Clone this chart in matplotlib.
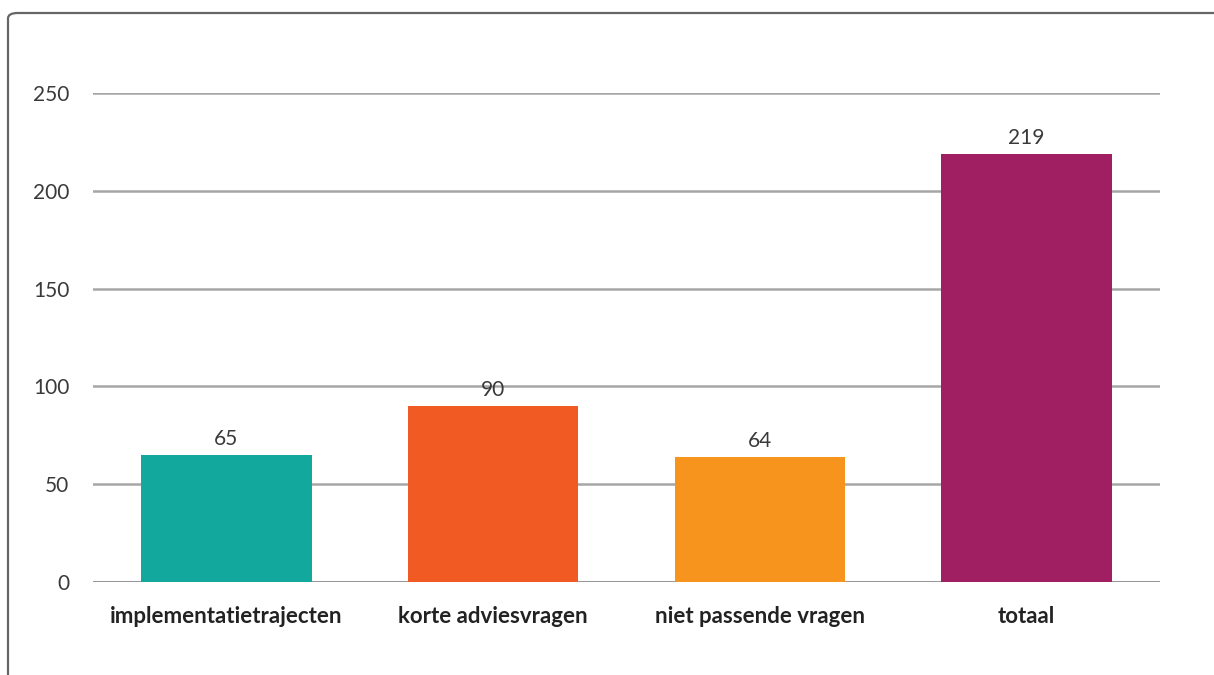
import matplotlib.pyplot as plt
from matplotlib.patches import FancyBboxPatch

categories = ['implementatietrajecten', 'korte adviesvragen', 'niet passende vragen', 'totaal']
values = [65, 90, 64, 219]
colors = ['#13A89E', '#F15A22', '#F7941D', '#A01F62']
yticks = [0, 50, 100, 150, 200, 250]

plt.rcParams['font.family'] = ['Lato', 'DejaVu Sans']

fig = plt.figure(figsize=(12.14, 6.75), dpi=100)
ax = fig.add_axes([93 / 1214, 93 / 675, 1067 / 1214, 489 / 675])

# rounded frame that runs off the right and bottom edges
frame = FancyBboxPatch((8 / 1214, -0.2), 1.2, 0.2 + 662 / 675,
                       boxstyle='round,pad=0,rounding_size=0.008',
                       transform=fig.transFigure, facecolor='none',
                       edgecolor='#666666', linewidth=1.6, clip_on=False)
fig.patches.append(frame)

x = range(len(categories))
ax.bar(x, values, width=0.64, color=colors, zorder=3)
for xi, v in zip(x, values):
    ax.text(xi, v + 3, str(v), ha='center', va='bottom', fontsize=15,
            fontweight='normal', color='#3a3a3a')

ax.set_xlim(-0.5, len(categories) - 0.5)
ax.set_ylim(0, 250)
ax.set_yticks(yticks)
ax.set_yticklabels([str(t) for t in yticks], fontsize=15, fontweight='normal', color='#3a3a3a')
ax.set_xticks(list(x))
ax.set_xticklabels(categories, fontsize=16, fontweight='bold', color='#222222')
ax.tick_params(axis='y', length=0, pad=17)
ax.tick_params(axis='x', length=0, pad=17)
ax.grid(axis='y', color='#a6a6a6', linewidth=1.8, zorder=0)
ax.axhline(0, color='#999999', linewidth=2.2, zorder=2)
ax.set_axisbelow(True)
for s in ax.spines.values():
    s.set_visible(False)

fig.savefig('out.png', dpi=100)
